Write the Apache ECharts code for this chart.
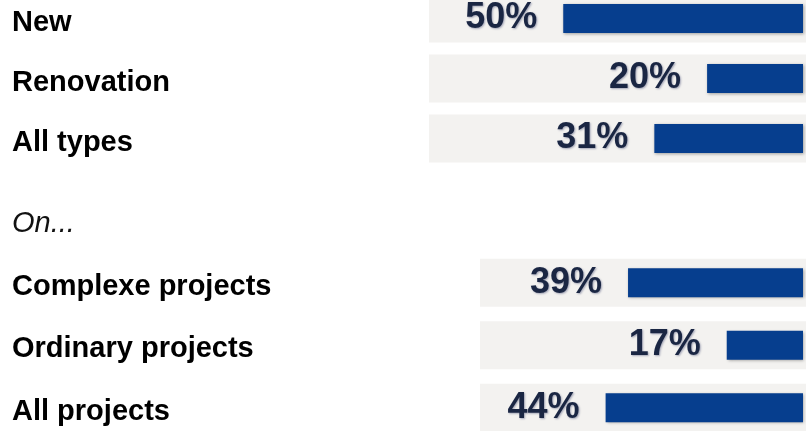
<!DOCTYPE html>
<html>
<head>
<meta charset="utf-8">
<script src="https://cdn.jsdelivr.net/npm/echarts@6.0.0/dist/echarts.min.js"></script>
<style>
  html, body { margin: 0; padding: 0; background: #fff; }
  #mainPlot { width: 806px; height: 431px; }
</style>
</head>
<body>
<div id="mainPlot"></div>
<script>
const typeCategories = ["New", "Renovation", "All types"];
const typeValues = [50, 20, 31];
const projectCategories = ["Complexe projects", "Ordinary projects", "All projects"];
const projectValues = [39, 17, 44];

const FONT = "'Liberation Sans', Arial, sans-serif";
const BAR_BLUE = "#063e8e";
const TRACK_GRAY = "#f3f2f0";

function trackSeries(idx, values) {
  // invisible wide bar, only its background is shown as the gray band
  return {
    type: "bar",
    xAxisIndex: idx,
    yAxisIndex: idx,
    data: values,
    barWidth: 48,
    silent: true,
    itemStyle: { color: "rgba(0,0,0,0)" },
    showBackground: true,
    backgroundStyle: { color: TRACK_GRAY },
  };
}

function valueSeries(idx, values) {
  return {
    type: "bar",
    xAxisIndex: idx,
    yAxisIndex: idx,
    data: values,
    barWidth: 29,
    itemStyle: {
      color: BAR_BLUE,
      shadowColor: "rgba(0,0,0,0.35)",
      shadowBlur: 3,
      shadowOffsetX: 1,
      shadowOffsetY: 1,
    },
    label: {
      show: true,
      position: "left",
      distance: 26,
      formatter: "{c}%",
      fontFamily: FONT,
      fontWeight: "bold",
      fontSize: 36,
      color: "#1a2643",
      textShadowColor: "rgba(20,30,80,0.35)",
      textShadowBlur: 2,
      textShadowOffsetX: 1,
      textShadowOffsetY: 1,
    },
  };
}

function catAxis(idx, cats, showLabels, margin) {
  return {
    type: "category",
    gridIndex: idx,
    data: cats,
    inverse: true,
    axisLine: { show: false },
    axisTick: { show: false },
    splitLine: { show: false },
    axisLabel: {
      show: showLabels,
      margin: margin,
      align: "left",
      color: "#000",
      formatter: "{t|{value}}",
      rich: {
        t: {
          fontFamily: FONT,
          fontWeight: "bold",
          fontSize: 29,
          color: "#000",
          padding: [8, 0, 0, 0],
        },
      },
    },
  };
}

function valAxis(idx, max) {
  return {
    type: "value",
    gridIndex: idx,
    min: 0,
    max: max,
    inverse: true,
    show: false,
  };
}

function grid(left, right, top, height) {
  return { left, right, top, height, outerBoundsMode: "none", containLabel: false };
}

const chart = echarts.init(document.getElementById("mainPlot"));
chart.setOption({
  animation: false,
  grid: [
    grid(429, 0, -11.5, 180),
    grid(429, 3, -11.5, 180),
    grid(480, 0, 251.5, 187.5),
    grid(480, 3, 251.5, 187.5),
  ],
  xAxis: [valAxis(0, 78), valAxis(1, 78), valAxis(2, 72), valAxis(3, 72)],
  yAxis: [
    catAxis(0, typeCategories, true, 417),
    catAxis(1, typeCategories, false, 0),
    catAxis(2, projectCategories, true, 468),
    catAxis(3, projectCategories, false, 0),
  ],
  graphic: [
    {
      type: "text",
      left: 12,
      top: 209,
      style: {
        text: "On...",
        font: "italic 29px " + FONT,
        fill: "#111",
      },
    },
  ],
  series: [
    trackSeries(0, typeValues),
    valueSeries(1, typeValues),
    trackSeries(2, projectValues),
    valueSeries(3, projectValues),
  ],
});
</script>
</body>
</html>
